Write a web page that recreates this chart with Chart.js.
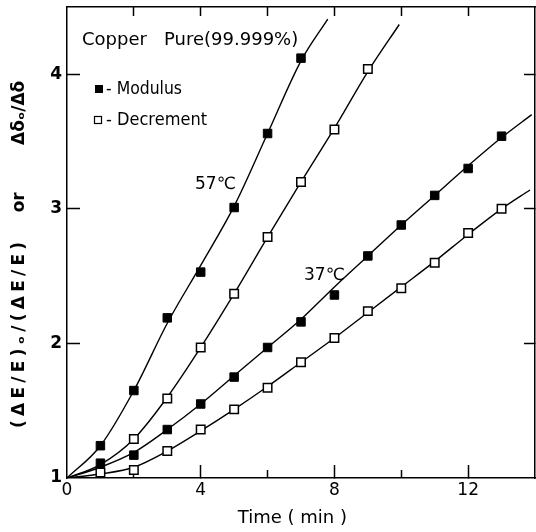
<!DOCTYPE html>
<html>
<head>
<meta charset="utf-8">
<script src="https://cdn.jsdelivr.net/npm/chart.js@4.4.0/dist/chart.umd.min.js"></script>
<style>
  html, body { margin: 0; padding: 0; background: #fff; overflow: hidden; }
  #wrap { width: 536px; height: 532px; position: relative; }
  canvas { display: block; }
</style>
</head>
<body>
<div id="wrap"><canvas id="copperChart"></canvas></div>
<script>
// measured points, time in min
const time57Mod = [1, 2, 3, 4, 5, 6, 7];
const mod57 = [1.24, 1.65, 2.19, 2.53, 3.01, 3.56, 4.12];
const time57Dec = [2, 3, 4, 5, 6, 7, 8, 9];
const dec57 = [1.29, 1.59, 1.97, 2.37, 2.79, 3.2, 3.59, 4.04];
const time37 = [1, 2, 3, 4, 5, 6, 7, 8, 9, 10, 11, 12, 13];
const mod37 = [1.11, 1.17, 1.36, 1.55, 1.75, 1.97, 2.16, 2.36, 2.65, 2.88, 3.1, 3.3, 3.54];
const dec37 = [1.04, 1.06, 1.2, 1.36, 1.51, 1.67, 1.86, 2.04, 2.24, 2.41, 2.6, 2.82, 3.0];

// fitted curves
const fit57ModX = [0, 1, 2, 3, 4, 5, 6, 7, 7.8];
const fit57ModY = [1, 1.24, 1.65, 2.15, 2.58, 3.02, 3.56, 4.1, 4.41];
const fit57DecX = [0, 1, 2, 3, 4, 5, 6, 7, 8, 9, 9.94];
const fit57DecY = [1, 1.1, 1.29, 1.6, 1.97, 2.37, 2.79, 3.2, 3.6, 4.02, 4.37];
const fit37ModX = [0, 1, 2, 3, 4, 5, 6, 7, 8, 9, 10, 11, 12, 13, 13.9];
const fit37ModY = [1, 1.08, 1.19, 1.36, 1.55, 1.76, 1.97, 2.18, 2.42, 2.65, 2.88, 3.1, 3.32, 3.53, 3.7];
const fit37DecX = [0, 1, 2, 3, 4, 5, 6, 7, 8, 9, 10, 11, 12, 13, 13.85];
const fit37DecY = [1, 1.03, 1.08, 1.2, 1.35, 1.51, 1.68, 1.86, 2.04, 2.23, 2.42, 2.61, 2.81, 3.0, 3.14];

// axis ticks
const xMajorTicks = [0, 4, 8, 12];
const xMinorTicks = [2, 6, 10];
const xTopTicks = [2, 4, 6, 8, 10, 12];
const yTicks = [1, 2, 3, 4];
const yRightTicks = [2, 3, 4];

const FONT = "DejaVu Sans";

// letters of the y title are spread out like in the print
function spaced(s) {
  return Array.from(s).join("\u2005");
}

const xTitle = "Time ( min )   ";
const yTitle = spaced("(ΔE/E)ₒ/(ΔE/E)") + "     or        Δδₒ/Δδ    ";
const titleNote = "Copper   Pure(99.999%)";
const legendMod = "- Modulus";
const legendDec = "- Decrement";
const label57 = "57℃";
const label37 = "37℃";

function pts(xs, ys) {
  return xs.map((x, i) => ({ x: x, y: ys[i] }));
}

function curve(xs, ys) {
  return {
    type: "line",
    data: pts(xs, ys),
    borderColor: "#000",
    borderWidth: 1.4,
    pointRadius: 0,
    fill: false,
    cubicInterpolationMode: "monotone",
    order: 2,
  };
}

function markers(xs, ys, filled) {
  return {
    type: "scatter",
    data: pts(xs, ys),
    pointStyle: "rect",
    pointRadius: 6,
    backgroundColor: filled ? "#000" : "#fff",
    borderColor: "#000",
    borderWidth: filled ? 1 : 1.5,
    order: 1,
  };
}

function setTicks(values) {
  return (scale) => {
    scale.ticks = values.map((v) => ({ value: v }));
  };
}

// fixed box size, no extra room for overhanging labels
function fixSize(w, h) {
  return (s) => {
    if (w !== null) s.width = w;
    if (h !== null) s.height = h;
    s.paddingLeft = s.paddingRight = s.paddingTop = s.paddingBottom = 0;
  };
}

// text and legend keys written on the plot
const notesPlugin = {
  id: "notes",
  afterDatasetsDraw(chart) {
    const ctx = chart.ctx;
    ctx.save();
    ctx.fillStyle = "#000";
    ctx.textBaseline = "middle";
    ctx.textAlign = "left";
    ctx.font = "18px '" + FONT + "'";
    ctx.fillText(titleNote, 82, 40, 224);
    ctx.font = "17px '" + FONT + "'";
    ctx.fillText(legendMod, 106, 90, 76);
    ctx.fillText(legendDec, 106, 121, 101);
    ctx.fillText(label57, 195, 185);
    ctx.fillText(label37, 304, 276);
    // legend keys
    ctx.fillRect(95, 85, 8, 8);
    ctx.lineWidth = 1.2;
    ctx.strokeStyle = "#000";
    ctx.strokeRect(94.5, 116.5, 7, 7);
    ctx.restore();
  },
};

const axisFont = { family: FONT, size: 17 };

new Chart(document.getElementById("copperChart"), {
  data: {
    datasets: [
      curve(fit57ModX, fit57ModY),
      curve(fit57DecX, fit57DecY),
      curve(fit37ModX, fit37ModY),
      curve(fit37DecX, fit37DecY),
      markers(time57Mod, mod57, true),
      markers(time57Dec, dec57, false),
      markers(time37, mod37, true),
      markers(time37, dec37, false),
    ],
  },
  options: {
    responsive: true,
    maintainAspectRatio: false,
    animation: false,
    layout: { padding: 0, autoPadding: false },
    plugins: {
      legend: { display: false },
      tooltip: { enabled: false },
    },
    scales: {
      x: {
        type: "linear",
        position: "bottom",
        min: 0,
        max: 14,
        afterBuildTicks: setTicks(xMajorTicks),
        afterFit: fixSize(null, 54),
        grid: {
          drawOnChartArea: false,
          tickLength: -13,
          tickWidth: 1.5,
          tickColor: (c) => (c.tick && c.tick.value === 0 ? "transparent" : "#000"),
        },
        border: { display: true, color: "#000", width: 1.5 },
        ticks: { color: "#000", font: axisFont, padding: 15, maxRotation: 0 },
        title: {
          display: true,
          text: xTitle,
          color: "#000",
          font: { family: FONT, size: 18 },
          padding: { top: 0, bottom: 3 },
        },
      },
      xMinor: {
        type: "linear",
        position: "bottom",
        weight: -1,
        min: 0,
        max: 14,
        afterBuildTicks: setTicks(xMinorTicks),
        afterFit: fixSize(null, 0),
        grid: { drawOnChartArea: false, tickLength: -8, tickWidth: 1.5, tickColor: "#000" },
        border: { display: false },
        ticks: { display: false },
      },
      x2: {
        type: "linear",
        position: "top",
        min: 0,
        max: 14,
        afterBuildTicks: setTicks(xTopTicks),
        afterFit: fixSize(null, 7),
        grid: { drawOnChartArea: false, tickLength: -9, tickWidth: 1.5, tickColor: "#000" },
        border: { display: true, color: "#000", width: 1.5 },
        ticks: { display: false },
      },
      y: {
        type: "linear",
        position: "left",
        min: 1,
        max: 4.5,
        afterBuildTicks: setTicks(yTicks),
        afterFit: fixSize(67, null),
        grid: {
          drawOnChartArea: false,
          tickLength: -13,
          tickWidth: 1.5,
          tickColor: (c) => (c.tick && c.tick.value === 1 ? "transparent" : "#000"),
        },
        border: { display: true, color: "#000", width: 1.5 },
        ticks: { color: "#000", font: { family: FONT, size: 17, weight: "bold" }, padding: 18 },
        title: {
          display: true,
          text: yTitle,
          color: "#000",
          font: { family: FONT, size: 17, weight: "bold" },
          padding: { top: 9, bottom: 0 },
        },
      },
      y2: {
        type: "linear",
        position: "right",
        min: 1,
        max: 4.5,
        afterBuildTicks: setTicks(yRightTicks),
        afterFit: fixSize(1, null),
        grid: { drawOnChartArea: false, tickLength: -11, tickWidth: 1.5, tickColor: "#000" },
        border: { display: true, color: "#000", width: 1.5 },
        ticks: { display: false },
      },
    },
  },
  plugins: [notesPlugin],
});
</script>
</body>
</html>
